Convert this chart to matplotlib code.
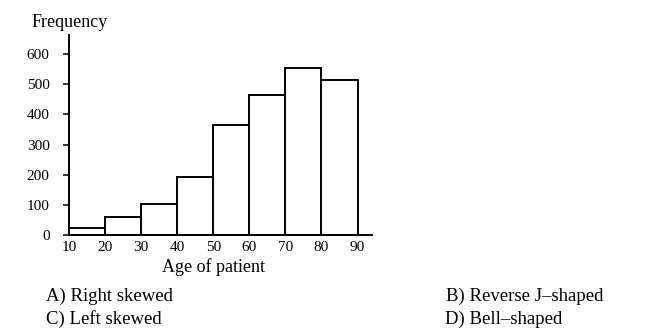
import matplotlib
matplotlib.use("Agg")
import matplotlib.pyplot as plt

# histogram data
bin_edges = [10, 20, 30, 40, 50, 60, 70, 80, 90]
frequencies = [22, 60, 103, 193, 365, 465, 553, 513]
y_ticks = [0, 100, 200, 300, 400, 500, 600]
x_ticks = [10, 20, 30, 40, 50, 60, 70, 80, 90]
options = ["A) Right skewed", "B) Reverse J–shaped", "C) Left skewed", "D) Bell–shaped"]

plt.rcParams['font.family'] = ['Liberation Serif', 'DejaVu Serif']

fig = plt.figure(figsize=(6.5, 3.35), dpi=100)
ax = fig.add_axes([0.1062, 0.2985, 0.466, 0.597])

widths = [b - a for a, b in zip(bin_edges[:-1], bin_edges[1:])]
ax.bar(bin_edges[:-1], frequencies, width=widths, align='edge',
       color='white', edgecolor='black', linewidth=1.4)

ax.set_xlim(10, 94)
ax.set_ylim(0, 663)
ax.set_xticks(x_ticks)
ax.set_yticks(y_ticks)
ax.tick_params(axis='x', length=0, pad=4, labelsize=11)
ax.tick_params(axis='y', length=4, width=1.1, pad=10, labelsize=11)
for side in ['top', 'right']:
    ax.spines[side].set_visible(False)
for side in ['left', 'bottom']:
    ax.spines[side].set_linewidth(1.4)

fig.text(0.049, 0.934, "Frequency", fontsize=13, va='center', ha='left')
fig.text(0.329, 0.203, "Age of patient", fontsize=13, va='center', ha='center')

fig.text(0.070, 0.116, options[0], fontsize=13.5, va='center')
fig.text(0.686, 0.116, options[1], fontsize=13.5, va='center')
fig.text(0.070, 0.048, options[2], fontsize=13.5, va='center')
fig.text(0.684, 0.048, options[3], fontsize=13.5, va='center')

fig.savefig("out.png", dpi=100)
